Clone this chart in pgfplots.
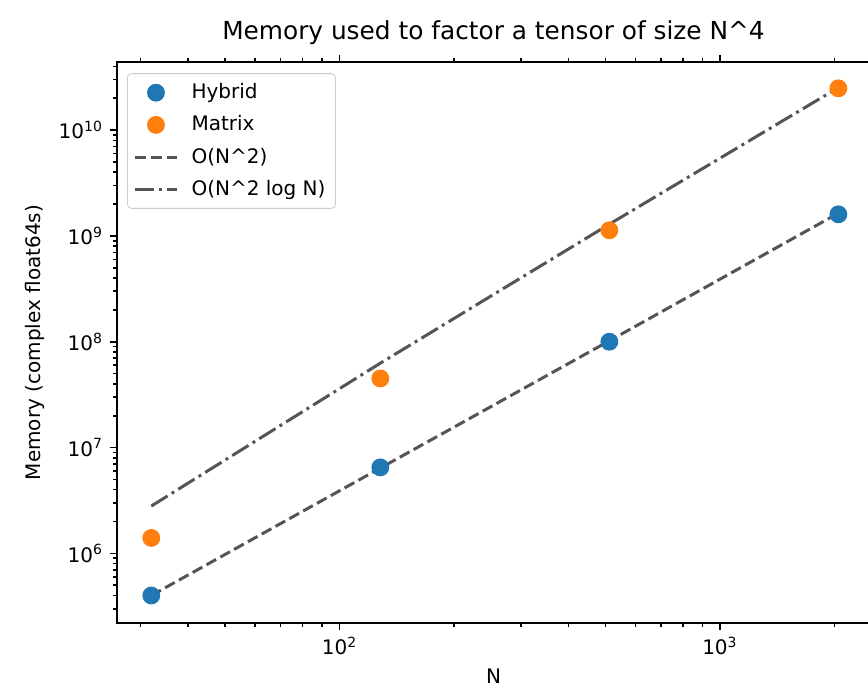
\documentclass[border=0pt]{standalone}
\usepackage{fontspec}
\setmainfont{DejaVu Sans}
\usepackage{pgfplots}
\pgfplotsset{compat=1.18}
\definecolor{tabblue}{HTML}{1F77B4}
\definecolor{taborange}{HTML}{FF7F0E}
\definecolor{fitgray}{HTML}{555555}
\begin{document}
\begin{tikzpicture}[x=0.5pt,y=0.5pt]
\path[use as bounding box] (-117,-66) rectangle (751,623);
\begin{axis}[
    at={(0,0)}, anchor=south west,
    scale only axis,
    width=376.5pt, height=280.5pt,
    xmode=log, ymode=log,
    xmin=26, xmax=2480,
    ymin=2.2e5, ymax=4.4e10,
    axis line style={line width=0.8pt},
    tick style={line width=0.8pt, black},
    tick align=outside,
    major tick length=3.5pt,
    minor tick length=2pt,
    xtick={100,1000},
    xticklabels={10\textsuperscript{2},10\textsuperscript{3}},
    minor xtick={30,40,50,60,70,80,90,200,300,400,500,600,700,800,900,2000},
    ytick={1e6,1e7,1e8,1e9,1e10},
    yticklabels={10\textsuperscript{6},10\textsuperscript{7},10\textsuperscript{8},10\textsuperscript{9},10\textsuperscript{10}},
    minor ytick={3e5,4e5,5e5,6e5,7e5,8e5,9e5,2e6,3e6,4e6,5e6,6e6,7e6,8e6,9e6,2e7,3e7,4e7,5e7,6e7,7e7,8e7,9e7,2e8,3e8,4e8,5e8,6e8,7e8,8e8,9e8,2e9,3e9,4e9,5e9,6e9,7e9,8e9,9e9,2e10,3e10,4e10},
    ticklabel style={font=\fontsize{10}{12}\selectfont},
    title={Memory used to factor a tensor of size N\textasciicircum 4},
    title style={font=\fontsize{12.4}{14}\selectfont, yshift=-1pt},
    xlabel={N},
    ylabel={Memory (complex float64s)},
    label style={font=\fontsize{10}{12}\selectfont},
    legend image code/.code={\draw[mark repeat=2,mark phase=2,#1] plot coordinates {(0cm,0cm) (0.37cm,0cm) (0.74cm,0cm)};},
    legend style={font=\fontsize{10}{12}\selectfont, draw=black!20, rounded corners=2pt,
        row sep=3pt, inner sep=3pt, at={(0.0133,0.980)}, anchor=north west,
        /tikz/every odd column/.append style={column sep=4.5pt}},
    legend cell align=left,
    every axis plot/.append style={line width=1.5pt},
]
\addplot[only marks, mark=*, mark size=3.7pt, color=tabblue, mark options={draw=tabblue, fill=tabblue}]
coordinates {(32,4.0e5) (128,6.5e6) (512,1.0e8) (2048,1.6e9)};
\addlegendentry{Hybrid}
\addplot[only marks, mark=*, mark size=3.7pt, color=taborange, mark options={draw=taborange, fill=taborange}]
coordinates {(32,1.4e6) (128,4.5e7) (512,1.13e9) (2048,2.48e10)};
\addlegendentry{Matrix}
\addplot[no marks, color=fitgray, dash pattern=on 5.5pt off 2.4pt]
coordinates {(32,4.0e5) (128,6.4e6) (512,1.02e8) (2048,1.64e9)};
\addlegendentry{O(N\textasciicircum 2)}
\addplot[no marks, color=fitgray, dash pattern=on 9.6pt off 2.4pt on 1.5pt off 2.4pt]
coordinates {(32,2.8e6) (128,6.27e7) (512,1.29e9) (2048,2.52e10)};
\addlegendentry{O(N\textasciicircum 2 log N)}
\end{axis}
\end{tikzpicture}
\end{document}
